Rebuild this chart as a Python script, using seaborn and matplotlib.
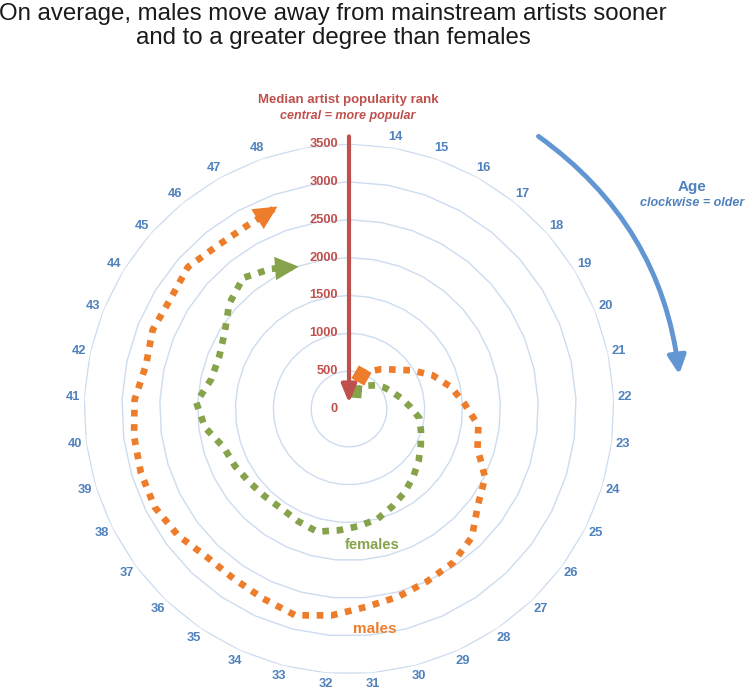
import numpy as np
import pandas as pd
import matplotlib
matplotlib.use("Agg")
import matplotlib.pyplot as plt
import seaborn as sns

# ages with data (the wheel has 37 slots: 13..49, first and last left empty)
ages = list(range(15, 49))
male_rank = [481, 570, 676, 788, 974, 1192, 1378, 1530, 1722, 1775,
             2014, 2120, 2345, 2451, 2500, 2564, 2624, 2736, 2816, 2749,
             2710, 2710, 2809, 2875, 2875, 2862, 2835, 2743, 2796, 2770,
             2836, 2770, 2770, 2836]
female_rank = [248, 315, 396, 475, 545, 611, 698, 804, 936, 994,
               1062, 1145, 1231, 1320, 1405, 1500, 1552, 1608, 1674, 1628,
               1590, 1602, 1632, 1683, 1730, 1918, 2019, 1862, 1848, 1928,
               2107, 2226, 2120, 1994]
age_labels = list(range(14, 49))
rank_ticks = [0, 500, 1000, 1500, 2000, 2500, 3000, 3500]

n_slots = 37
RED = "#c0504d"
ORANGE = "#ee7d2b"
GREEN = "#86a24b"
BLUE = "#4f81bd"
ARC_BLUE = "#6296d3"
RING = "#cddcef"


def angle(age):
    return np.deg2rad((np.asarray(age) - 13) * 360.0 / n_slots)


sns.set_style("white")
plt.rcParams["font.family"] = ["Liberation Sans", "DejaVu Sans"]

fig = plt.figure(figsize=(7.5, 6.91), dpi=100)
ax = fig.add_axes([84 / 750, 17 / 691, 530 / 750, 530 / 691], projection="polar")
ax.set_theta_zero_location("N")
ax.set_theta_direction(-1)

# polygon rings like a radar chart
ring_theta = np.linspace(0, 2 * np.pi, n_slots + 1)
for t in rank_ticks[1:]:
    ax.plot(ring_theta, [t] * len(ring_theta), color=RING, lw=1, zorder=1)

df = pd.DataFrame({"theta": angle(ages), "males": male_rank, "females": female_rank})
series = [("males", ORANGE, (4, 0, 15), 15), ("females", GREEN, (4, 0, 40), 13)]
for col, color, start_marker, ms in series:
    sns.lineplot(data=df, x="theta", y=col, ax=ax, color=color, lw=4.8,
                 linestyle=(0, (1, 1.15)), dash_capstyle="butt", sort=False, zorder=3)
    # start marker
    ax.plot(df["theta"].iloc[0], df[col].iloc[0], marker=start_marker, ms=ms,
            color=color, mec="none", zorder=4)
    # arrow head at the end (shaft has no width, only the head shows)
    th1, r1 = df["theta"].iloc[-1], df[col].iloc[-1]
    th0, r0 = df["theta"].iloc[-2], df[col].iloc[-2]
    ax.annotate("", xy=(th1, r1), xytext=(th0, r0),
                arrowprops=dict(arrowstyle="-|>,head_length=0.85,head_width=0.42",
                                mutation_scale=20, color=color, lw=0,
                                shrinkA=0, shrinkB=0), zorder=4)

ax.set_xlabel("")
ax.set_ylabel("")
ax.set_ylim(0, 3500)
ax.set_xticks([])
ax.set_yticks([])
ax.grid(False)
ax.spines["polar"].set_visible(False)

# radial axis: red arrow and labels
ax.annotate("", xy=(0, 80), xytext=(0, 3600),
            arrowprops=dict(arrowstyle="-|>,head_length=0.6,head_width=0.25",
                            mutation_scale=18, color=RED, lw=3,
                            shrinkA=0, shrinkB=0),
            annotation_clip=False, zorder=5)
for t in rank_ticks:
    ax.annotate(str(t), xy=(0, t), xytext=(-8, 0), textcoords="offset points",
                ha="right", va="center", color=RED, fontsize=9.3, fontweight="bold")

# age labels round the wheel
for a in age_labels:
    ax.text(angle(a), 3650, str(a), ha="center", va="center", color=BLUE,
            fontsize=9.3, fontweight="bold", clip_on=False)

# age arrow
r_arc = 4385
ax.annotate("", xy=(np.deg2rad(84), r_arc), xytext=(np.deg2rad(34.8), r_arc),
            arrowprops=dict(arrowstyle="-|>,head_length=0.6,head_width=0.3",
                            mutation_scale=18, color=ARC_BLUE, lw=3.5,
                            connectionstyle="arc3,rad=-0.22",
                            shrinkA=0, shrinkB=0),
            annotation_clip=False)

# series labels
ax.text(np.deg2rad(170.4), 1823, "females", ha="center", va="center",
        color=GREEN, fontsize=10.5, fontweight="bold")
ax.text(np.deg2rad(173.3), 2926, "males", ha="center", va="center",
        color=ORANGE, fontsize=11, fontweight="bold")

fig.text(333 / 750, 1 - 3 / 691,
         "On average, males move away from mainstream artists sooner\n"
         "and to a greater degree than females",
         ha="center", va="top", fontsize=17.3, linespacing=1.12, color="#1a1a1a")
fig.text(348 / 750, 1 - 100 / 691, "Median artist popularity rank", ha="center",
         va="center", color=RED, fontsize=9.5, fontweight="bold")
fig.text(348 / 750, 1 - 116 / 691, "central = more popular", ha="center",
         va="center", color=RED, fontsize=9, fontweight="bold", style="italic")
fig.text(692 / 750, 1 - 187 / 691, "Age", ha="center", va="center",
         color=BLUE, fontsize=11, fontweight="bold")
fig.text(692 / 750, 1 - 203 / 691, "clockwise = older", ha="center",
         va="center", color=BLUE, fontsize=9, fontweight="bold", style="italic")

fig.savefig("out.png", dpi=100)
